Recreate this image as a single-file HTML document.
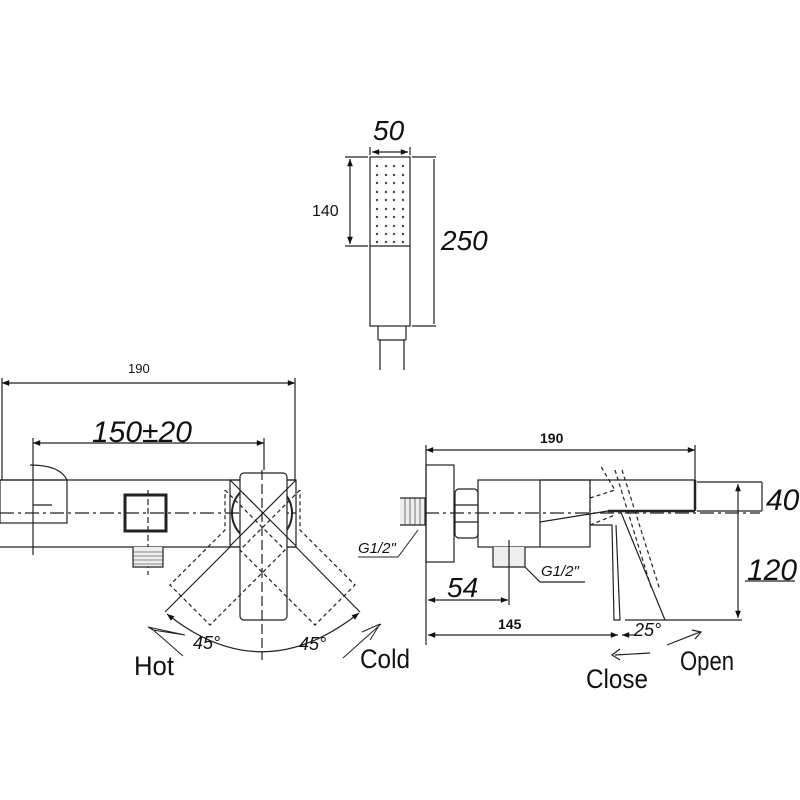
<!DOCTYPE html>
<html><head><meta charset="utf-8"><style>
html,body{margin:0;padding:0;background:#fff;width:800px;height:800px;overflow:hidden}
svg{display:block}
text{font-family:"Liberation Sans",sans-serif;fill:#111}
.i{font-style:italic;font-family:"Liberation Sans",sans-serif}
</style></head><body>
<svg width="800" height="800" viewBox="0 0 800 800" xmlns="http://www.w3.org/2000/svg">
<defs>
<marker id="a" viewBox="0 0 10 10" refX="10" refY="5" markerWidth="8" markerHeight="6" orient="auto-start-reverse"><path d="M0,1 L10,5 L0,9 z" fill="#111"/></marker>
</defs>
<g stroke="#222" stroke-width="1.2" fill="none">
<!-- hand shower -->
<rect x="370" y="157" width="40" height="169"/>
<line x1="370" y1="246" x2="410" y2="246"/>
<line x1="370" y1="155" x2="370" y2="147"/><line x1="410" y1="155" x2="410" y2="147"/>
<line x1="372" y1="152" x2="408" y2="152" marker-start="url(#a)" marker-end="url(#a)"/>
<line x1="345" y1="157" x2="368" y2="157"/><line x1="345" y1="246" x2="368" y2="246"/>
<line x1="350" y1="159" x2="350" y2="244" marker-start="url(#a)" marker-end="url(#a)"/>
<line x1="412" y1="157" x2="436" y2="157"/><line x1="412" y1="326" x2="436" y2="326"/>
<line x1="434" y1="159" x2="434" y2="324"/>
<path d="M378,326 L378,340 M406,326 L406,340 M380,340 L380,370 M404,340 L404,370 M378,340 L406,340"/>
<!-- left view -->
<line x1="2" y1="383" x2="295" y2="383" marker-start="url(#a)" marker-end="url(#a)"/>
<line x1="2" y1="378" x2="2" y2="480"/><line x1="295" y1="378" x2="295" y2="480"/>
<line x1="33" y1="443" x2="264" y2="443" marker-start="url(#a)" marker-end="url(#a)"/>
<line x1="33" y1="438" x2="33" y2="555"/><line x1="264" y1="438" x2="264" y2="470"/>
<line x1="0" y1="480" x2="296" y2="480"/><line x1="0" y1="547" x2="296" y2="547"/>
<rect x="0" y="480" width="67" height="43"/>
<line x1="0" y1="513" x2="300" y2="513" stroke-dasharray="14,4,3,4"/>
<path d="M30,465 Q60,465 67,480"/><line x1="33" y1="505" x2="52" y2="505"/>
<rect x="125" y="495" width="41" height="36" stroke-width="3"/>
<line x1="148" y1="490" x2="148" y2="575" stroke-dasharray="6,3"/>
<path d="M133,547 L133,567 L163,567 L163,547" fill="#eee"/>
<path d="M133,552H163M133,556H163M133,560H163M133,564H163" stroke-width="0.6"/>
<rect x="230" y="480" width="66" height="67"/>
<circle cx="262" cy="513" r="30" stroke-width="2"/>
<rect x="240" y="473" width="47" height="147" rx="4" fill="#fff"/>
<line x1="230" y1="480" x2="296" y2="546"/><line x1="296" y1="480" x2="230" y2="546"/>
<line x1="262" y1="470" x2="262" y2="660" stroke-dasharray="10,4"/>
<g stroke-dasharray="4,3">
<path d="M225,490 L285,550 L210,625 L170,585 L225,530 L225,490"/>
<path d="M300,490 L240,550 L315,625 L355,585 L300,530 L300,490"/>
</g>
<line x1="230" y1="547" x2="165" y2="612"/><line x1="296" y1="547" x2="360" y2="612"/>
<path d="M167,614 Q262,690 359,613" marker-start="url(#a)" marker-end="url(#a)"/>
<path d="M185,635 L148,627 L153,630 Z M151,628 L183,656" stroke-width="1"/>
<path d="M343,658 L381,624 M380,624 L370,640 M380,624 L362,632" stroke-width="1"/>
<!-- right view -->
<line x1="426" y1="450" x2="695" y2="450" marker-start="url(#a)" marker-end="url(#a)"/>
<line x1="426" y1="445" x2="426" y2="645"/><line x1="695" y1="445" x2="695" y2="480"/>
<rect x="426" y="465" width="28" height="97"/>
<rect x="455" y="489" width="23" height="49" rx="4"/>
<line x1="455" y1="505" x2="478" y2="505"/><line x1="455" y1="522" x2="478" y2="522"/>
<rect x="478" y="480" width="112" height="67"/>
<line x1="540" y1="480" x2="540" y2="547"/>
<line x1="540" y1="480" x2="695" y2="480"/>
<line x1="608" y1="511" x2="695" y2="511" stroke-width="2.5"/>
<line x1="695" y1="480" x2="695" y2="511" stroke-width="2.5"/>
<line x1="540" y1="522" x2="608" y2="511"/>
<line x1="400" y1="513" x2="760" y2="513" stroke-dasharray="14,4,3,4"/>
<path d="M400,498 L425,498 L425,525 L400,525" fill="#eee"/>
<path d="M405,498V525M410,498V525M415,498V525M420,498V525" stroke-width="0.6"/>
<path d="M493,547 L493,567 L525,567 L525,547" fill="#eee"/>
<line x1="509" y1="540" x2="509" y2="605"/>
<path d="M525,567 L540,582 L585,582"/>
<path d="M590,525 L612,525 L614,620 L620,620 L616,525"/>
<g stroke-dasharray="4,3">
<path d="M590,480 L590,525 M590,498 L615,490 L600,465 M590,525 L615,515"/>
<path d="M615,470 L652,590 M622,470 L660,590"/>
</g>
<line x1="620" y1="510" x2="665" y2="620"/>
<line x1="697" y1="482" x2="762" y2="482"/><line x1="697" y1="511" x2="762" y2="511"/>
<line x1="762" y1="482" x2="762" y2="511"/>
<line x1="738" y1="484" x2="738" y2="618" marker-start="url(#a)" marker-end="url(#a)"/>
<line x1="625" y1="620" x2="742" y2="620"/>
<line x1="745" y1="581" x2="795" y2="581"/>
<line x1="428" y1="600" x2="508" y2="600" marker-start="url(#a)" marker-end="url(#a)"/>
<line x1="428" y1="635" x2="618" y2="635" marker-start="url(#a)" marker-end="url(#a)"/>
<line x1="635" y1="635" x2="622" y2="635" marker-end="url(#a)"/>
<path d="M650,653 L615,655 M620,649 L612,655 L620,660" stroke-width="1.2"/>
<path d="M667,645 L700,632 M692,630 L701,632 L695,639" stroke-width="1.2"/>
<path d="M418,530 L398,557 L358,557" stroke-width="1"/>
</g>
<text x="128" y="373" font-size="13">190</text>
<text x="92" y="442" font-size="30" class="i">150±20</text>
<text x="193" y="649" font-size="18" class="i">45°</text>
<text x="299" y="650" font-size="18" class="i">45°</text>
<text x="134" y="675" font-size="27" textLength="40" lengthAdjust="spacingAndGlyphs">Hot</text>
<text x="360" y="668" font-size="27" textLength="50" lengthAdjust="spacingAndGlyphs">Cold</text>
<text x="373" y="140" font-size="28" class="i">50</text>
<text x="312" y="216" font-size="16">140</text>
<text x="441" y="250" font-size="28" class="i">250</text>
<text x="540" y="443" font-size="14" font-weight="bold">190</text>
<text x="766" y="510" font-size="30" class="i">40</text>
<text x="747" y="580" font-size="30" class="i">120</text>
<text x="447" y="597" font-size="28" class="i">54</text>
<text x="498" y="629" font-size="14" font-weight="bold">145</text>
<text x="634" y="636" font-size="18" class="i">25°</text>
<text x="541" y="576" font-size="15" class="i">G1/2"</text>
<text x="358" y="553" font-size="15" class="i">G1/2"</text>
<text x="586" y="688" font-size="27" textLength="62" lengthAdjust="spacingAndGlyphs">Close</text>
<text x="680" y="670" font-size="27" textLength="54" lengthAdjust="spacingAndGlyphs">Open</text>
<g fill="#444">
<circle cx="377" cy="166" r="1.2"/><circle cx="386" cy="166" r="1.2"/><circle cx="394" cy="166" r="1.2"/><circle cx="403" cy="166" r="1.2"/>
<circle cx="377" cy="175" r="1.2"/><circle cx="386" cy="175" r="1.2"/><circle cx="394" cy="175" r="1.2"/><circle cx="403" cy="175" r="1.2"/>
<circle cx="377" cy="183" r="1.2"/><circle cx="386" cy="183" r="1.2"/><circle cx="394" cy="183" r="1.2"/><circle cx="403" cy="183" r="1.2"/>
<circle cx="377" cy="192" r="1.2"/><circle cx="386" cy="192" r="1.2"/><circle cx="394" cy="192" r="1.2"/><circle cx="403" cy="192" r="1.2"/>
<circle cx="377" cy="200" r="1.2"/><circle cx="386" cy="200" r="1.2"/><circle cx="394" cy="200" r="1.2"/><circle cx="403" cy="200" r="1.2"/>
<circle cx="377" cy="209" r="1.2"/><circle cx="386" cy="209" r="1.2"/><circle cx="394" cy="209" r="1.2"/><circle cx="403" cy="209" r="1.2"/>
<circle cx="377" cy="217" r="1.2"/><circle cx="386" cy="217" r="1.2"/><circle cx="394" cy="217" r="1.2"/><circle cx="403" cy="217" r="1.2"/>
<circle cx="377" cy="226" r="1.2"/><circle cx="386" cy="226" r="1.2"/><circle cx="394" cy="226" r="1.2"/><circle cx="403" cy="226" r="1.2"/>
<circle cx="377" cy="234" r="1.2"/><circle cx="386" cy="234" r="1.2"/><circle cx="394" cy="234" r="1.2"/><circle cx="403" cy="234" r="1.2"/>
<circle cx="377" cy="242" r="1.2"/><circle cx="386" cy="242" r="1.2"/><circle cx="394" cy="242" r="1.2"/><circle cx="403" cy="242" r="1.2"/>
</g>
</svg>
</body></html>
